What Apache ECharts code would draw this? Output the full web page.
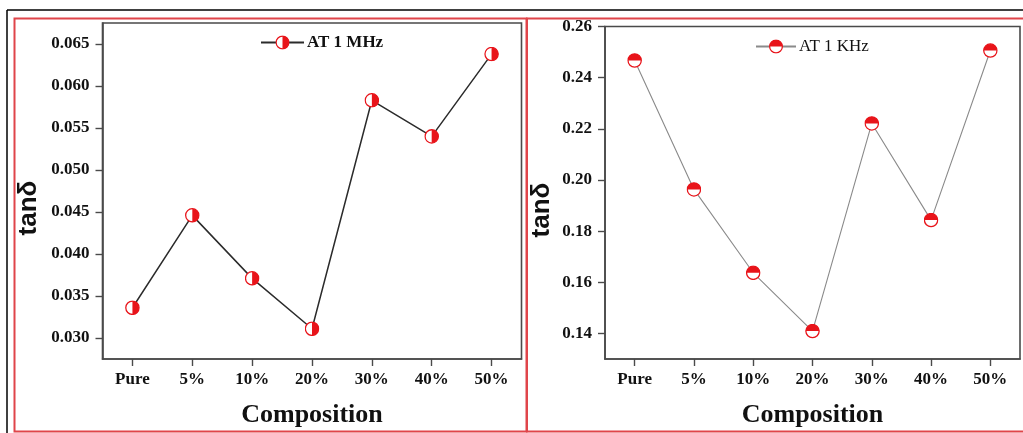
<!DOCTYPE html>
<html>
<head>
<meta charset="utf-8">
<script src="https://cdn.jsdelivr.net/npm/echarts@6/dist/echarts.min.js"></script>
<style>
html,body{margin:0;padding:0;background:#fff;}
#c{width:1023px;height:433px;}
</style>
</head>
<body>
<div id="c"></div>
<script>
// ---- data ----
var categories = ['Pure', '5%', '10%', '20%', '30%', '40%', '50%'];
var mhzValues = [0.0336, 0.0446, 0.0371, 0.0311, 0.0583, 0.0540, 0.0638];
var khzValues = [0.2467, 0.1963, 0.1637, 0.1409, 0.2221, 0.1843, 0.2506];
var mhzTicks = [0.030, 0.035, 0.040, 0.045, 0.050, 0.055, 0.060, 0.065];
var khzTicks = [0.14, 0.16, 0.18, 0.20, 0.22, 0.24, 0.26];
var mhzName = 'AT 1 MHz';
var khzName = 'AT 1 KHz';
var xName = 'Composition';
var yName = 'tanδ';

var RED = '#e8141a';
function svgUri(svg){ return 'image://data:image/svg+xml;charset=utf-8,' + encodeURIComponent(svg); }
var leftMarker = svgUri('<svg xmlns="http://www.w3.org/2000/svg" width="28" height="28" viewBox="0 0 14 14">' +
  '<circle cx="7" cy="7" r="6.2" fill="#fff" stroke="' + RED + '" stroke-width="1.2"/>' +
  '<path d="M7,0.8 A6.2,6.2 0 0 1 7,13.2 Z" fill="' + RED + '"/></svg>');
var rightMarker = svgUri('<svg xmlns="http://www.w3.org/2000/svg" width="28" height="28" viewBox="0 0 14 14">' +
  '<circle cx="7" cy="7" r="6.2" fill="#fff" stroke="' + RED + '" stroke-width="1.2"/>' +
  '<path d="M0.8,7 A6.2,6.2 0 0 1 13.2,7 Z" fill="' + RED + '"/></svg>');

var SERIF = '"Liberation Serif", "Times New Roman", serif';
var axisCol = '#4a4a4a';

function xAxisCfg(gi){
  return {
    type: 'category', gridIndex: gi, data: categories, boundaryGap: true,
    axisLine: {show: true, lineStyle: {color: axisCol, width: 1.6}},
    axisTick: {show: true, alignWithLabel: true, length: 7, inside: false, lineStyle: {color: axisCol, width: 1.4}},
    axisLabel: {color: '#111', fontFamily: SERIF, fontWeight: 'bold', fontSize: 17, margin: 12},
    splitLine: {show: false},
    name: xName, nameLocation: 'middle', nameGap: 43,
    nameTextStyle: {color: '#111', fontFamily: SERIF, fontWeight: 'bold', fontSize: 26}
  };
}
function yAxisCfg(gi, mn, mx, ticks, dec){
  return {
    type: 'value', gridIndex: gi, min: mn, max: mx,
    axisLine: {show: true, lineStyle: {color: axisCol, width: 1.6}},
    axisTick: {show: true, length: 7, customValues: ticks, lineStyle: {color: axisCol, width: 1.4}},
    axisLabel: {customValues: ticks, color: '#111', fontFamily: SERIF, fontWeight: 'bold', fontSize: 17, margin: 13,
      formatter: function(v){ return v.toFixed(dec); }},
    splitLine: {show: false}
  };
}

var chart = echarts.init(document.getElementById('c'), null, {renderer: 'canvas'});
chart.setOption({
  backgroundColor: '#fff',
  animation: false,
  grid: [
    {left: 102.5, top: 23, right: 501.5, bottom: 73, show: true, borderColor: axisCol, borderWidth: 1.6, backgroundColor: 'transparent'},
    {left: 605, top: 26.5, right: 3, bottom: 72, show: true, borderColor: axisCol, borderWidth: 1.6, backgroundColor: 'transparent'}
  ],
  xAxis: [xAxisCfg(0), xAxisCfg(1)],
  yAxis: [yAxisCfg(0, 0.0275, 0.0675, mhzTicks, 3), yAxisCfg(1, 0.13, 0.26, khzTicks, 2)],
  legend: [
    {data: [mhzName], left: 255, top: 29, itemWidth: 43, itemHeight: 18, itemGap: 4,
     textStyle: {color: '#111', fontFamily: SERIF, fontWeight: 'bold', fontSize: 17, padding: [0,0,0,-2]}},
    {data: [khzName], left: 750, top: 33, itemWidth: 40, itemHeight: 18, itemGap: 4,
     textStyle: {color: '#111', fontFamily: SERIF, fontWeight: 'normal', fontSize: 17, padding: [0,0,0,-2]}}
  ],
  series: [
    {name: mhzName, type: 'line', xAxisIndex: 0, yAxisIndex: 0, data: mhzValues,
     symbol: leftMarker, symbolSize: 15, showAllSymbol: true,
     lineStyle: {color: '#2b2b2b', width: 1.5}, itemStyle: {color: RED}},
    {name: khzName, type: 'line', xAxisIndex: 1, yAxisIndex: 1, data: khzValues,
     symbol: rightMarker, symbolSize: 15, showAllSymbol: true,
     lineStyle: {color: '#8a8a8a', width: 1.1}, itemStyle: {color: RED}}
  ],
  graphic: [
    {type: 'line', shape: {x1: 7, y1: 10, x2: 1023, y2: 10}, style: {stroke: '#000', lineWidth: 1.5}, z: -1},
    {type: 'line', shape: {x1: 7, y1: 10, x2: 7, y2: 433}, style: {stroke: '#000', lineWidth: 1.5}, z: -1},
    {type: 'rect', shape: {x: 14.5, y: 18.5, width: 512, height: 413}, style: {fill: 'none', stroke: '#e0454a', lineWidth: 2}, z: -1},
    {type: 'rect', shape: {x: 527, y: 18.5, width: 500, height: 413}, style: {fill: 'none', stroke: '#e0454a', lineWidth: 2}, z: -1},
    {type: 'text', x: 28.5, y: 208, rotation: Math.PI / 2,
     style: {text: yName, font: 'bold 26px "Liberation Sans", Arial, sans-serif', fill: '#111', textAlign: 'center', textVerticalAlign: 'middle'}},
    {type: 'text', x: 542, y: 210, rotation: Math.PI / 2,
     style: {text: yName, font: 'bold 26px "Liberation Sans", Arial, sans-serif', fill: '#111', textAlign: 'center', textVerticalAlign: 'middle'}}
  ]
});
</script>
</body>
</html>
